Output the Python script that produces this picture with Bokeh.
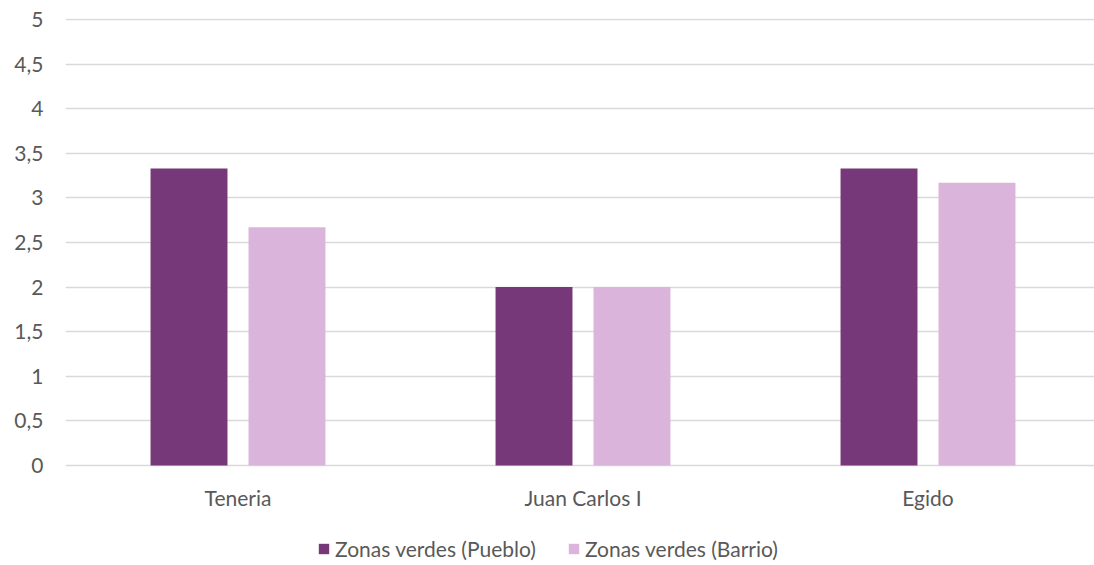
from bokeh.plotting import figure
from bokeh.models import ColumnDataSource, Range1d, FixedTicker, Legend, LegendItem
from bokeh.core.properties import value
from bokeh.embed import file_html
from bokeh.resources import INLINE

categories = ["Teneria", "Juan Carlos I", "Egido"]
pueblo = [3.33, 2.0, 3.33]
barrio = [2.67, 2.0, 3.17]
series_names = ["Zonas verdes (Pueblo)", "Zonas verdes (Barrio)"]
y_ticks = [0, 0.5, 1, 1.5, 2, 2.5, 3, 3.5, 4, 4.5, 5]

colors = ["#77387A", "#DBB4DC"]
text_color = "#595959"
font = "Lato"
fs = "21px"

px_per_unit_y = 446 / 5          # 0..5 spans 446 px
y_start = -100 / px_per_unit_y    # extra room below zero for labels and legend
y_end = 5 + 1 / px_per_unit_y     # keep top gridline inside the frame
label_y = -32 / px_per_unit_y     # category labels below the zero line

centers = [i + 0.5 for i in range(len(categories))]
offset = 0.142
bar_w = 0.223

src = ColumnDataSource(dict(
    xc=centers,
    xp=[c - offset for c in centers],
    xb=[c + offset for c in centers],
    ly=[label_y] * len(categories),
    cat=categories,
    pueblo=pueblo,
    barrio=barrio,
))

p = figure(width=1094, height=565, output_backend="svg", toolbar_location=None,
           x_range=Range1d(0, 1029 / 345), y_range=Range1d(y_start, y_end),
           min_border_left=65, min_border_right=0, min_border_top=18, min_border_bottom=0)
p.outline_line_color = None
p.background_fill_color = "white"
p.border_fill_color = "white"

r1 = p.vbar(x="xp", top="pueblo", width=bar_w, source=src, fill_color=colors[0], line_color=None)
r2 = p.vbar(x="xb", top="barrio", width=bar_w, source=src, fill_color=colors[1], line_color=None)

p.text(x="xc", y="ly", text="cat", source=src, text_align="center", text_baseline="middle",
       text_color=text_color, text_font=value(font), text_font_size=value(fs))

p.xaxis.visible = False
p.xgrid.grid_line_color = None
p.ygrid.grid_line_color = "#D9D9D9"
p.ygrid.grid_line_width = 1.3
p.ygrid.level = "underlay"

p.yaxis.ticker = FixedTicker(ticks=y_ticks)
p.yaxis.major_label_overrides = {t: (str(t).replace(".", ",") if t % 1 else str(int(t))) for t in y_ticks}
p.yaxis.axis_line_color = None
p.yaxis.major_tick_line_color = None
p.yaxis.minor_tick_line_color = None
p.yaxis.major_tick_out = 0
p.yaxis.major_tick_in = 0
p.yaxis.major_label_text_color = text_color
p.yaxis.major_label_text_font = font
p.yaxis.major_label_text_font_size = fs
p.yaxis.major_label_standoff = 22

legend = Legend(items=[LegendItem(label=series_names[0], renderers=[r1]),
                       LegendItem(label=series_names[1], renderers=[r2])],
                orientation="horizontal", location=(252, 4),
                padding=0, margin=0, spacing=31, label_standoff=5,
                glyph_width=13, glyph_height=13, label_height=18,
                border_line_color=None, background_fill_alpha=0,
                label_text_color=text_color, label_text_font=font,
                label_text_font_size=fs)
p.add_layout(legend, "center")

open("out.html", "w").write(file_html(p, INLINE))
